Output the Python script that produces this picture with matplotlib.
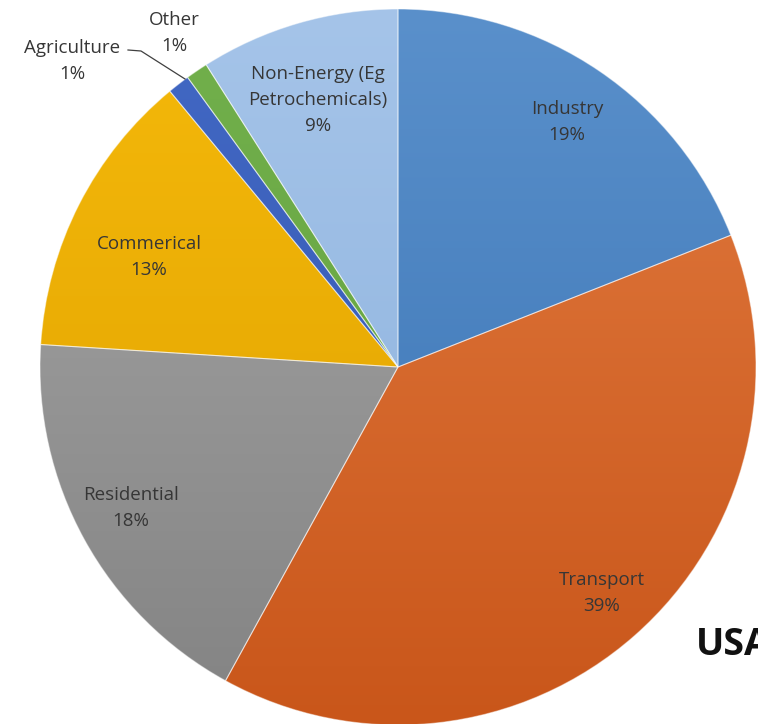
import matplotlib
matplotlib.use('Agg')
import matplotlib.pyplot as plt
from matplotlib.colors import LinearSegmentedColormap
import numpy as np

# energy use by sector, share of total (%)
sectors = ['Industry', 'Transport', 'Residential', 'Commerical',
           'Agriculture', 'Other', 'Non-Energy (Eg\nPetrochemicals)']
shares = [19, 39, 18, 13, 1, 1, 9]

# top / bottom shade for each slice
top_colors = ['#5a90cb', '#e27b40', '#a8a8a8', '#f5b90a',
              '#4268c4', '#72b04c', '#a5c4e9']
bottom_colors = ['#3872b3', '#c9561a', '#838383', '#dea000',
                 '#3458b0', '#62a03e', '#8ab0dc']

W, H = 758, 724
cx, cy, r = 398, H - 367, 358

fig = plt.figure(figsize=(W / 100, H / 100), dpi=100)
ax = fig.add_axes([0, 0, 1, 1])

wedges, _ = ax.pie(shares, startangle=90, counterclock=False,
                   center=(cx, cy), radius=r,
                   wedgeprops=dict(linewidth=0.8, edgecolor=(1, 1, 1, 0.45)))

# vertical gradient fill, clipped to each wedge
grad = np.linspace(0, 1, 256).reshape(-1, 1)
for w, c0, c1 in zip(wedges, top_colors, bottom_colors):
    cmap = LinearSegmentedColormap.from_list('g', [c0, c1])
    w.set_facecolor('none')
    im = ax.imshow(grad, cmap=cmap, aspect='auto',
                   extent=(cx - r, cx + r, cy - r, cy + r),
                   origin='upper', zorder=0.5)
    im.set_clip_path(w)

ax.set_xlim(0, W)
ax.set_ylim(0, H)
ax.set_aspect('equal')
ax.axis('off')

txt = dict(ha='center', va='center', fontsize=13.5, color='#363636',
           family='Open Sans', linespacing=1.6)

def put(x, y, s):
    ax.text(x, H - y, s, **txt)

put(567, 122, '%s\n%d%%' % (sectors[0], shares[0]))
put(602, 593, '%s\n%d%%' % (sectors[1], shares[1]))
put(131, 508, '%s\n%d%%' % (sectors[2], shares[2]))
put(149, 257, '%s\n%d%%' % (sectors[3], shares[3]))
put(318, 100, '%s\n%d%%' % (sectors[6], shares[6]))
put(174, 33, '%s\n%d%%' % (sectors[5], shares[5]))
put(72, 61, '%s\n%d%%' % (sectors[4], shares[4]))

# leader line for the small Agriculture slice
ax.plot([128, 141, 185], [H - 50, H - 51, H - 79], color='#404040', lw=0.9)

ax.text(696, H - 655, 'USA', ha='left', va='baseline', fontsize=27,
        fontweight='bold', family='Open Sans', color='#111111')

fig.savefig('out.png', dpi=100)
